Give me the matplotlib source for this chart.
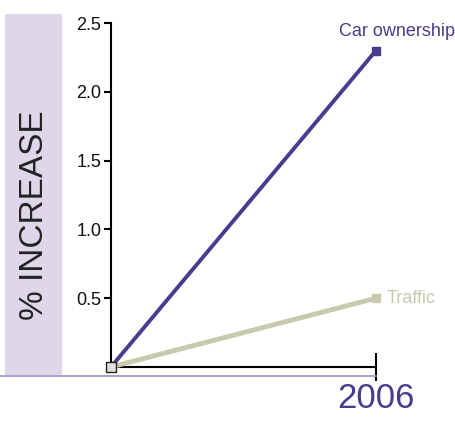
import matplotlib
matplotlib.use("Agg")
import matplotlib.pyplot as plt
from matplotlib.patches import Rectangle
from matplotlib.lines import Line2D

# Data
x_labels = ["", "2006"]
car_ownership = [0.0, 2.3]
traffic = [0.0, 0.5]
yticks = [0.5, 1.0, 1.5, 2.0, 2.5]
ytick_labels = ["0.5", "1.0", "1.5", "2.0", "2.5"]

W, H = 456, 425
fig = plt.figure(figsize=(W / 100, H / 100), dpi=100)
FONT = ["Liberation Sans Narrow", "Liberation Sans", "DejaVu Sans"]

purple = "#4b3a8e"
traffic_col = "#c8c9ad"

def fx(px):
    return px / W

def fy(py):
    return 1 - py / H

# background band
fig.patches.append(Rectangle((fx(5), fy(375)), fx(62) - fx(5), fy(14) - fy(375),
                             transform=fig.transFigure, facecolor="#ddd7e9",
                             edgecolor="none", zorder=0))
fig.lines.append(Line2D([fx(0), fx(376)], [fy(376), fy(376)], transform=fig.transFigure,
                        color="#a08ccb", lw=1.2, zorder=1))
fig.text(fx(35), fy(215), "% INCREASE", rotation=90, ha="center", va="center",
         fontsize=24, color="#222222", family=FONT)

ax = fig.add_axes([fx(111), fy(367), fx(376) - fx(111), fy(23) - fy(367)])
ax.set_facecolor("none")
xs = list(range(len(x_labels)))
ax.plot(xs, traffic, color=traffic_col, lw=3.5, zorder=3, clip_on=False)
ax.plot(xs, car_ownership, color=purple, lw=2.8, zorder=4, clip_on=False)
ax.plot([xs[1]], [traffic[1]], marker="s", ms=6, color=traffic_col, zorder=5, clip_on=False)
ax.plot([xs[1]], [car_ownership[1]], marker="s", ms=6, color=purple, zorder=5, clip_on=False)
ax.plot([xs[0]], [car_ownership[0]], marker="s", ms=6.5, mfc="#e0e0e0", mec="#222222",
        mew=1, zorder=6, clip_on=False)

ax.set_xlim(0, 1)
ax.set_ylim(0, 2.5)
for s in ["top", "right"]:
    ax.spines[s].set_visible(False)
ax.spines["left"].set_linewidth(1.5)
ax.spines["bottom"].set_linewidth(1.5)
ax.set_yticks(yticks)
ax.set_yticklabels(ytick_labels, family=FONT, fontsize=13, color="#111111")
ax.tick_params(axis="y", direction="out", length=5, width=1.5, pad=2)
ax.set_xticks([1])
ax.set_xticklabels([x_labels[1]], family=FONT, fontsize=25, color=purple)
ax.tick_params(axis="x", direction="inout", length=20, width=1.5, pad=1)

ax.text(1.298, car_ownership[1] + 0.075, "Car ownership", ha="right", va="bottom",
        fontsize=13, color=purple, family=FONT, clip_on=False)
ax.text(1.04, traffic[1], "Traffic", ha="left", va="center",
        fontsize=13, color=traffic_col, family=FONT, clip_on=False)

fig.savefig("out.png", dpi=100)
